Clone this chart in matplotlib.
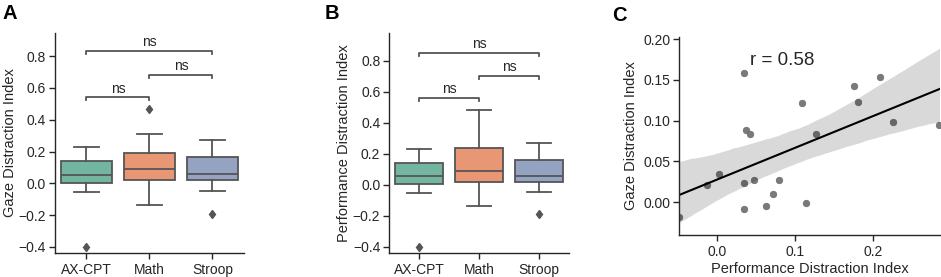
import numpy as np
import matplotlib
matplotlib.use("Agg")
import matplotlib.pyplot as plt
import seaborn as sns

plt.rcParams['font.family'] = ['Liberation Sans', 'DejaVu Sans']
plt.rcParams['axes.unicode_minus'] = True

tasks = ["AX-CPT", "Math", "Stroop"]
colors = [sns.desaturate(c, 0.75) for c in sns.color_palette("Set2", 3)]

# box stats: whislo, q1, median, q3, whishi
gaze_whislo = [-0.055, -0.135, -0.05]
gaze_q1 = [0.004, 0.02, 0.022]
gaze_med = [0.055, 0.093, 0.057]
gaze_q3 = [0.14, 0.19, 0.163]
gaze_whishi = [0.23, 0.31, 0.27]
gaze_fliers = [[-0.40], [0.465], [-0.19]]

perf_whislo = [-0.055, -0.135, -0.047]
perf_q1 = [0.005, 0.017, 0.02]
perf_med = [0.055, 0.086, 0.056]
perf_q3 = [0.14, 0.237, 0.157]
perf_whishi = [0.23, 0.484, 0.269]
perf_fliers = [[-0.40], [], [-0.19]]

# significance brackets (pair, height)
gaze_brackets = [((0, 1), 0.54), ((1, 2), 0.68), ((0, 2), 0.832)]
perf_brackets = [((0, 1), 0.56), ((1, 2), 0.70), ((0, 2), 0.852)]

# panel C scatter
perf_idx = [-0.049, -0.0137, 0.002, 0.034, 0.034, 0.034, 0.037, 0.042, 0.047, 0.062,
            0.071, 0.079, 0.109, 0.114, 0.127, 0.176, 0.181, 0.209, 0.226, 0.285]
gaze_idx = [-0.019, 0.0204, 0.035, 0.023, 0.159, -0.0086, 0.089, 0.083, 0.027, -0.0045,
            0.0098, 0.0266, 0.121, -0.0016, 0.084, 0.143, 0.123, 0.154, 0.098, 0.094]

line_gray = "#555555"
text_col = "#262626"

fig = plt.figure(figsize=(9.41, 2.77), dpi=100)
axA = fig.add_axes([0.0584, 0.0866, 0.2009, 0.794])
axB = fig.add_axes([0.4137, 0.0866, 0.191, 0.794])
axC = fig.add_axes([0.7219, 0.1516, 0.2775, 0.716])


def draw_box(ax, wlo, q1, med, q3, whi, fl, brackets, ylab, ylim):
    stats = []
    for i in range(3):
        stats.append(dict(whislo=wlo[i], q1=q1[i], med=med[i], q3=q3[i],
                          whishi=whi[i], fliers=fl[i], label=tasks[i]))
    bp = ax.bxp(stats, positions=[0, 1, 2], widths=0.8, patch_artist=True,
                boxprops=dict(edgecolor=line_gray, linewidth=1.3),
                whiskerprops=dict(color=line_gray, linewidth=1.3),
                capprops=dict(color=line_gray, linewidth=1.3),
                medianprops=dict(color=line_gray, linewidth=1.3),
                flierprops=dict(marker="d", markerfacecolor=line_gray,
                                markeredgecolor=line_gray, markersize=4.5))
    for patch, c in zip(bp["boxes"], colors):
        patch.set_facecolor(c)
    for (a, b), h in brackets:
        ax.plot([a, a, b, b], [h - 0.018, h, h, h - 0.018], color=line_gray, lw=1.3)
        ax.text((a + b) / 2, h + 0.012, "ns", ha="center", va="bottom",
                fontsize=10, color=text_col)
    ax.set_xlim(-0.5, 2.5)
    ax.set_ylim(*ylim)
    ax.set_yticks([-0.4, -0.2, 0.0, 0.2, 0.4, 0.6, 0.8])
    ax.set_yticklabels(["−0.4", "−0.2", "0.0", "0.2", "0.4", "0.6", "0.8"])
    ax.set_xticks([0, 1, 2])
    ax.set_xticklabels(tasks)
    ax.set_ylabel(ylab, fontsize=10.5, color=text_col, labelpad=1)


draw_box(axA, gaze_whislo, gaze_q1, gaze_med, gaze_q3, gaze_whishi, gaze_fliers,
         gaze_brackets, "Gaze Distraction Index", (-0.438, 0.945))
draw_box(axB, perf_whislo, perf_q1, perf_med, perf_q3, perf_whishi, perf_fliers,
         perf_brackets, "Performance Distraction Index", (-0.44, 0.979))

sns.regplot(x=np.array(perf_idx), y=np.array(gaze_idx), ax=axC, ci=95, truncate=False,
            seed=3, scatter_kws=dict(color="#7a7a7a", s=22, edgecolor="#6a6a6a",
                                      linewidths=0.5, alpha=1, clip_on=True),
            line_kws=dict(color="black", lw=1.5))
axC.set_xlim(-0.049, 0.287)
axC.set_ylim(-0.0405, 0.203)
axC.set_xticks([0.0, 0.1, 0.2])
axC.set_xticklabels(["0.0", "0.1", "0.2"])
axC.set_yticks([0.0, 0.05, 0.10, 0.15, 0.20])
axC.set_yticklabels(["0.00", "0.05", "0.10", "0.15", "0.20"])
axC.set_xlabel("Performance Distraction Index", fontsize=10.5, color=text_col, labelpad=2)
axC.set_ylabel("Gaze Distraction Index", fontsize=10.5, color=text_col)
axC.text(0.042, 0.174, "r = 0.58", fontsize=13.5, color=text_col, ha="left", va="center")
for coll in axC.collections:
    if coll.get_array() is None and len(coll.get_offsets()) == 0:
        coll.set_facecolor("#d3d3d3")
        coll.set_alpha(1)

for ax in (axA, axB, axC):
    for s in ("top", "right"):
        ax.spines[s].set_visible(False)
    for s in ("left", "bottom"):
        ax.spines[s].set_color(text_col)
        ax.spines[s].set_linewidth(1.0)
    ax.tick_params(direction="out", length=4, width=1, colors=text_col, labelsize=10)
    ax.tick_params(axis="y", pad=2.5)

fig.text(0.003, 0.93, "A", fontsize=14.5, fontweight="bold")
fig.text(0.345, 0.93, "B", fontsize=14.5, fontweight="bold")
fig.text(0.651, 0.925, "C", fontsize=14.5, fontweight="bold")

fig.savefig("out.png", dpi=100)
